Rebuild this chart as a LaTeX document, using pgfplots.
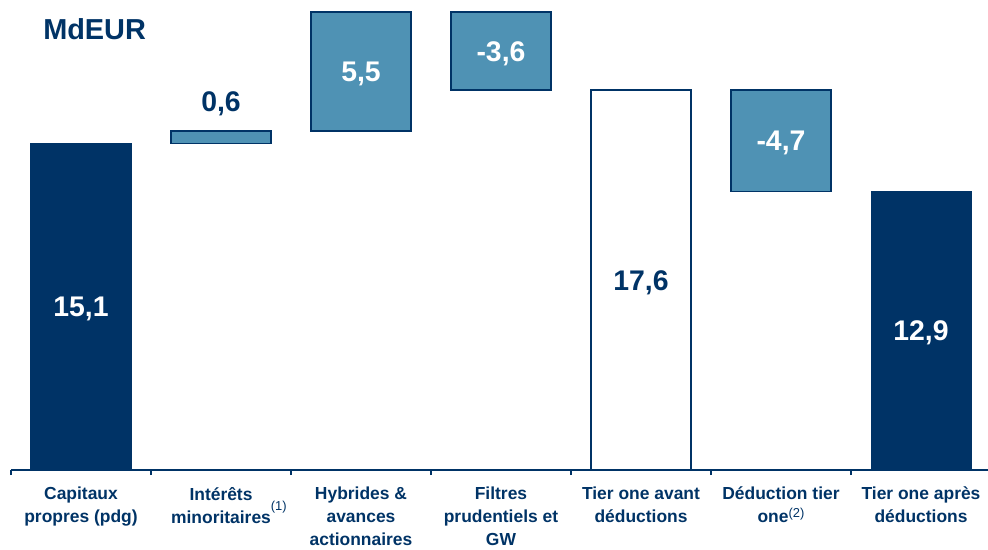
\documentclass[border=0pt]{standalone}
\usepackage{pgfplots}
\pgfplotsset{compat=1.18}
\usepackage{pgfplotstable}
\usepackage{fontspec}
\setmainfont{Liberation Sans}
\definecolor{navy}{RGB}{0,51,102}
\definecolor{midblue}{RGB}{79,146,180}

\pgfplotstableread{
x base navy white mid
0 0    15.1 0    0
1 15.1 0    0    0.6
2 15.7 0    0    5.5
3 17.6 0    0    3.6
4 0    0    17.6 0
5 12.9 0    0    4.7
6 0    12.9 0    0
}\bars

\pgfplotstableread{
x y label
0 7.55 {15,1}
2 18.45 {5,5}
3 19.4 {-3,6}
5 15.25 {-4,7}
6 6.45 {12,9}
}\whitelabels

\pgfplotstableread{
x y label
1 17.08 {0,6}
4 8.8 {17,6}
}\navylabels

\begin{document}
\begin{tikzpicture}
\pgfplotsset{common/.style={width=980bp, height=470bp, scale only axis,
  xmin=-0.5, xmax=6.5, ymin=0, ymax=21.76, at={(0,0)}, anchor=south west, clip=false}}
\begin{axis}[common, ybar stacked, bar width=100bp,
  axis x line*=bottom, axis y line=none,
  xtick={0,...,6},
  xticklabels={
    {Capitaux\\propres (pdg)},
    {Intérêts\\minoritaires\rlap{\raisebox{13bp}{\mdseries\fontsize{13}{13}\selectfont(1)}}},
    {Hybrides \&\\avances\\actionnaires},
    {Filtres\\prudentiels et\\GW},
    {Tier one avant\\déductions},
    {Déduction tier\\one\raisebox{5bp}{\mdseries\fontsize{13}{13}\selectfont(2)}},
    {Tier one après\\déductions}},
  major tick length=0pt,
  minor xtick={-0.5,0.5,...,6.5},
  minor tick length=5bp,
  tick align=outside,
  x axis line style={navy, line width=1.3bp},
  every tick/.style={navy, line width=1.3bp},
  xticklabel style={align=center, anchor=north, inner sep=0pt, yshift=-17bp,
    font=\bfseries\fontsize{17.5}{23}\selectfont, text=navy},
]
\addplot[draw=none, fill=none] table[x=x,y=base]{\bars};
\addplot[fill=navy, draw=navy, line width=1bp] table[x=x,y=navy]{\bars};
\addplot[fill=white, draw=navy, line width=1.3bp] table[x=x,y=white]{\bars};
\addplot[fill=midblue, draw=navy, line width=1.3bp] table[x=x,y=mid]{\bars};
\node[anchor=base west, inner sep=0pt, text=navy, font=\bfseries\fontsize{29}{32}\selectfont] at (axis cs:-0.271,19.95) {MdEUR};
\end{axis}
\begin{axis}[common, axis lines=none]
\addplot[draw=none, mark=none, nodes near coords, point meta=explicit symbolic,
  nodes near coords align=center,
  every node near coord/.append style={anchor=center, text=white, inner sep=0pt, yshift=-2.5bp,
    font=\bfseries\fontsize{28.5}{30}\selectfont}]
  table[x=x,y=y,meta=label]{\whitelabels};
\addplot[draw=none, mark=none, nodes near coords, point meta=explicit symbolic,
  nodes near coords align=center,
  every node near coord/.append style={anchor=center, text=navy, inner sep=0pt, yshift=-2.5bp,
    font=\bfseries\fontsize{28.5}{30}\selectfont}]
  table[x=x,y=y,meta=label]{\navylabels};
\end{axis}
\pgfresetboundingbox
\path[use as bounding box] (-11bp,-80bp) rectangle (977bp,470bp);
\end{tikzpicture}
\end{document}
